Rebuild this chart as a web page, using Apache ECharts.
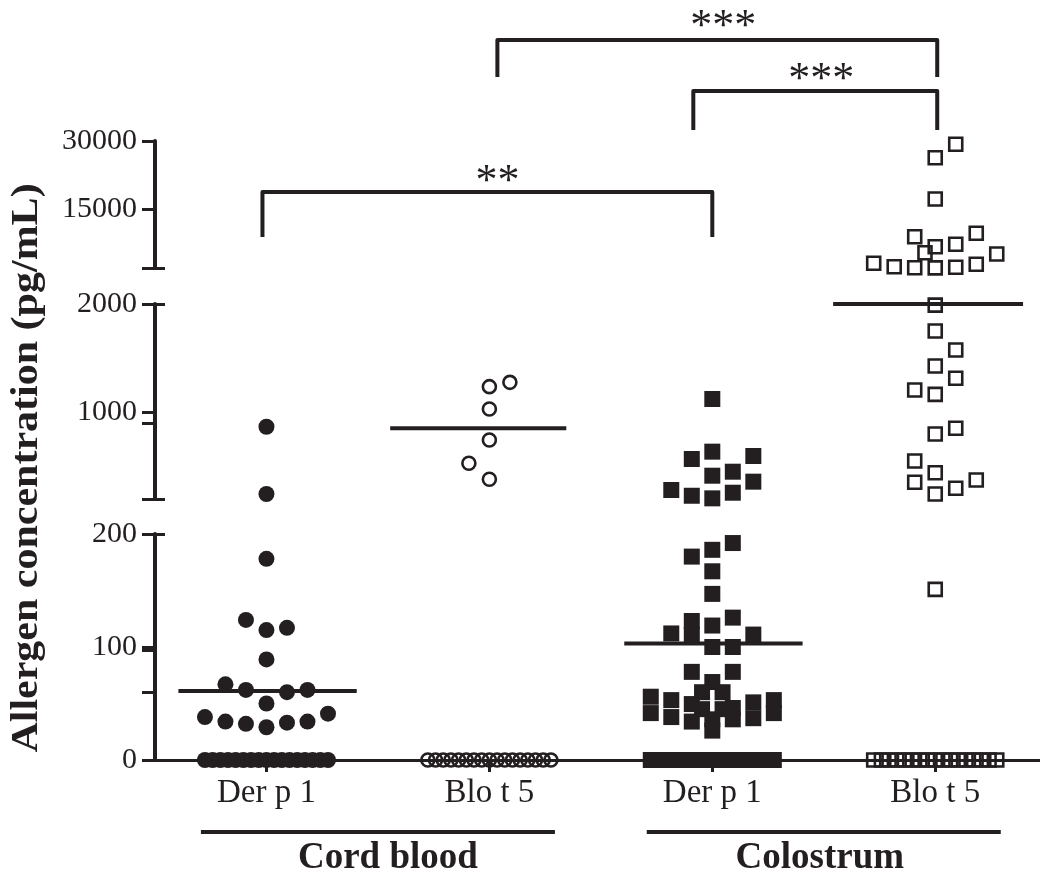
<!DOCTYPE html>
<html><head><meta charset="utf-8">
<script src="https://cdn.jsdelivr.net/npm/echarts@6/dist/echarts.min.js"></script>
<style>html,body{margin:0;padding:0;background:#fff;}#c{width:1040px;height:878px;}</style>
</head><body><div id="c"></div>
<script>
// ---------------- data ----------------
const categories = ['Der p 1', 'Blo t 5', 'Der p 1', 'Blo t 5'];
const groupLabels = ['Cord blood', 'Colostrum'];
const yAxisTitle = 'Allergen concentration (pg/mL)';

// axis segments (broken axis) and their tick labels
const segmentRanges = [[0, 200], [200, 2000], [2000, 30000]];
const segmentTickLabels = [[0, 100, 200], [1000, 2000], [15000, 30000]];
const segmentExtraTicks = [[60, 97], [900], []];

// values (pg/mL) and horizontal jitter slot of each point
const cordDerp1Values = [867, 246, 178, 124, 115, 117, 89, 67, 62, 60, 62, 50, 38, 34, 32, 29, 33, 34, 41,
  0, 0, 0, 0, 0, 0, 0, 0, 0, 0, 0, 0, 0, 0, 0, 0, 0];
const cordDerp1Slots = [0, 0, 0, -2, 0, 2, 0, -4, -2, 2, 4, 0, -6, -4, -2, 0, 2, 4, 6,
  -6, -5.25, -4.5, -3.75, -3, -2.25, -1.5, -0.75, 0, 0.75, 1.5, 2.25, 3, 3.75, 4.5, 5.25, 6];

const cordBlot5Values = [1277, 1237, 1031, 745, 530, 382,
  0, 0, 0, 0, 0, 0, 0, 0, 0, 0, 0, 0, 0, 0, 0, 0, 0];
const cordBlot5Slots = [2, 0, 0, 0, -2, 0,
  -6, -5.25, -4.5, -3.75, -3, -2.25, -1.5, -0.75, 0, 0.75, 1.5, 2.25, 3, 3.75, 4.5, 5.25, 6];

const colDerp1Values = [1123, 637, 569, 597, 415, 452, 360, 283, 230, 206, 258,
  192, 186, 180, 167, 147, 112, 123, 111, 119, 126, 111, 100, 100, 78, 78,
  56, 41.5, 53, 38, 49.5, 34, 69, 60, 60, 45, 45, 36, 46, 36, 51, 37, 53, 41.5, 26,
  0, 0, 0, 0, 0, 0, 0, 0, 0, 0, 0, 0, 0, 0, 0, 0, 0];
const colDerp1Slots = [0, 0, -2, 4, 0, 2, 4, -4, -2, 0, 2,
  2, 0, -2, 0, 0, -4, -2, -2, 0, 2, 4, 0, 2, -2, 2,
  -6, -6, -4, -4, -2, -2, 0, -1, 1, -1, 1, 0, 2, 2, 4, 4, 6, 6, 0,
  -6, -5.25, -4.5, -3.75, -3, -2.25, -1.5, -0.75, 0, 0.75, 1.5, 2.25, 3, 3.75, 4.5, 5.25, 6];

const colBlot5Values = [29275, 26322, 17214, 8902, 9651, 6697, 7226, 5374, 5087, 3036, 2287, 2066, 2020, 2154, 2816,
  1990, 1751, 1575, 1428, 1314, 1206, 1166, 853, 800, 551, 443, 354, 375, 299, 246, 151,
  0, 0, 0, 0, 0, 0, 0, 0, 0, 0, 0, 0, 0, 0, 0, 0, 0];
const colBlot5Slots = [2, 0, 0, -2, 4, 0, 2, -1, 6, -6, -4, -2, 0, 2, 4,
  0, 0, 2, 0, 2, -2, 0, 2, 0, -2, 0, -2, 4, 2, 0, 0,
  -6, -5.25, -4.5, -3.75, -3, -2.25, -1.5, -0.75, 0, 0.75, 1.5, 2.25, 3, 3.75, 4.5, 5.25, 6];

const medians = [61, 853, 103, 2000];

// significance comparisons (category numbers 1..4)
const comparisons = [
  { from: 1, to: 3, label: '**' },
  { from: 2, to: 4, label: '***' },
  { from: 3, to: 4, label: '***' }
];

// ---------------- layout / style ----------------
const INK = '#231f20';
const SERIF = "'Liberation Serif','Times New Roman',serif";
const segRects = [{ top: 534, height: 226 }, { top: 304, height: 195 }, { top: 141, height: 127 }];
const capTicks = [[200], [200, 2000], [2000]];
const X_MIN = 0.5, X_MAX = 4.47, SLOT = 0.046;
const medianLayout = [{ shift: 0.005, half: 0.4 }, { shift: -0.05, half: 0.395 }, { shift: 0.005, half: 0.4 }, { shift: -0.032, half: 0.426 }];

const groups = [
  { values: cordDerp1Values, slots: cordDerp1Slots, symbol: 'circle', filled: true },
  { values: cordBlot5Values, slots: cordBlot5Slots, symbol: 'circle', filled: false },
  { values: colDerp1Values, slots: colDerp1Slots, symbol: 'rect', filled: true },
  { values: colBlot5Values, slots: colBlot5Slots, symbol: 'rect', filled: false }
];

function segOf(v) { return v <= 200 ? 0 : (v <= 2000 ? 1 : 2); }

const grid = [], xAxis = [], yAxis = [], series = [];
segRects.forEach((r, s) => {
  grid.push({ left: 155, right: 0, top: r.top, height: r.height, outerBoundsMode: 'none', containLabel: false });
  const showX = s === 0;
  xAxis.push({
    type: 'value', gridIndex: s, min: X_MIN, max: X_MAX, show: showX,
    axisLine: { show: showX, onZero: false, lineStyle: { color: INK, width: 3 } },
    axisTick: { show: showX, customValues: [1, 2, 3, 4], length: 12, lineStyle: { color: INK, width: 3 } },
    axisLabel: { show: showX, customValues: [1, 2, 3, 4], formatter: v => categories[Math.round(v) - 1],
      fontFamily: SERIF, fontSize: 33, color: INK, margin: 17 },
    splitLine: { show: false }
  });
  const rng = segmentRanges[s];
  yAxis.push({
    type: 'value', gridIndex: s, min: rng[0], max: rng[1], position: 'left',
    axisLine: { show: true, onZero: false, lineStyle: { color: INK, width: 4 } },
    axisTick: { show: true, customValues: segmentTickLabels[s].concat(segmentExtraTicks[s], capTicks[s]),
      length: 13, lineStyle: { color: INK, width: 3 } },
    axisLabel: { customValues: segmentTickLabels[s], formatter: v => String(v),
      fontFamily: SERIF, fontSize: 30, color: INK, margin: 18 },
    splitLine: { show: false }
  });
  yAxis.push({
    type: 'value', gridIndex: s, min: rng[0], max: rng[1], position: 'left',
    axisLine: { show: false, onZero: false },
    axisTick: { show: true, inside: true, customValues: capTicks[s], length: 10, lineStyle: { color: INK, width: 3 } },
    axisLabel: { show: false }, splitLine: { show: false }
  });
});

groups.forEach((g, gi) => {
  const cx = gi + 1;
  for (let s = 0; s < 3; s++) {
    const data = [];
    g.values.forEach((v, i) => { if (segOf(v) === s) data.push([cx + g.slots[i] * SLOT, v]); });
    if (!data.length) continue;
    series.push({
      type: 'scatter', xAxisIndex: s, yAxisIndex: 2 * s, data, clip: false, silent: true,
      symbol: g.symbol, symbolSize: g.filled ? 16 : 13,
      itemStyle: g.filled ? { color: INK, opacity: 1 } : { color: 'rgba(0,0,0,0)', borderColor: INK, borderWidth: 2.6, opacity: 1 },
      z: 3
    });
  }
  const m = medians[gi], ms = segOf(m), ml = medianLayout[gi];
  series.push({
    type: 'line', xAxisIndex: ms, yAxisIndex: 2 * ms,
    data: [[cx + ml.shift - ml.half, m], [cx + ml.shift + ml.half, m]],
    symbol: 'none', clip: false, silent: true, lineStyle: { color: INK, width: 4, cap: 'butt' }, z: 5
  });
});

const chart = echarts.init(document.getElementById('c'), null, { renderer: 'canvas' });
chart.setOption({ animation: false, backgroundColor: '#fff', grid, xAxis, yAxis, series });

// ---------------- annotations ----------------
const px = v => chart.convertToPixel({ xAxisIndex: 0 }, v);
const bracketLayout = [
  { top: 192, dropL: 237, dropR: 237, nudgeL: -4, nudgeR: 0, labelY: 182, labelNudge: 10 },
  { top: 40, dropL: 77, dropR: 77, nudgeL: 8, nudgeR: 2, labelY: 27, labelNudge: 6 },
  { top: 91, dropL: 130, dropR: 130, nudgeL: -19, nudgeR: 2, labelY: 80, labelNudge: 6 }
];
const graphic = [];
comparisons.forEach((c, i) => {
  const L = bracketLayout[i];
  const x1 = px(c.from) + L.nudgeL, x2 = px(c.to) + L.nudgeR;
  graphic.push({ type: 'polyline', silent: true,
    shape: { points: [[x1, L.dropL], [x1, L.top], [x2, L.top], [x2, L.dropR]] },
    style: { stroke: INK, lineWidth: 4, fill: null, lineJoin: 'round' } });
  graphic.push({ type: 'text', silent: true, x: (x1 + x2) / 2 + L.labelNudge, y: L.labelY,
    style: { text: c.label, font: '44px ' + SERIF, fill: INK, align: 'center', verticalAlign: 'middle',
      textAlign: 'center', textVerticalAlign: 'middle' } });
});
const groupLabelNudge = [10, -4];
groupLabels.forEach((t, i) => {
  const cx = px(1.5 + 2 * i);
  graphic.push({ type: 'line', silent: true, shape: { x1: cx - 177, y1: 832, x2: cx + 177, y2: 832 },
    style: { stroke: INK, lineWidth: 4 } });
  graphic.push({ type: 'text', silent: true, x: cx + groupLabelNudge[i], y: 858,
    style: { text: t, font: 'bold 37px ' + SERIF, fill: INK, align: 'center', verticalAlign: 'middle',
      textAlign: 'center', textVerticalAlign: 'middle' } });
});
graphic.push({ type: 'text', silent: true, x: 27, y: 468, rotation: Math.PI / 2, scaleY: 0.9,
  style: { text: yAxisTitle, font: 'bold 42px ' + SERIF, fill: INK, align: 'center', verticalAlign: 'middle',
    textAlign: 'center', textVerticalAlign: 'middle' } });
chart.setOption({ graphic });
</script></body></html>
